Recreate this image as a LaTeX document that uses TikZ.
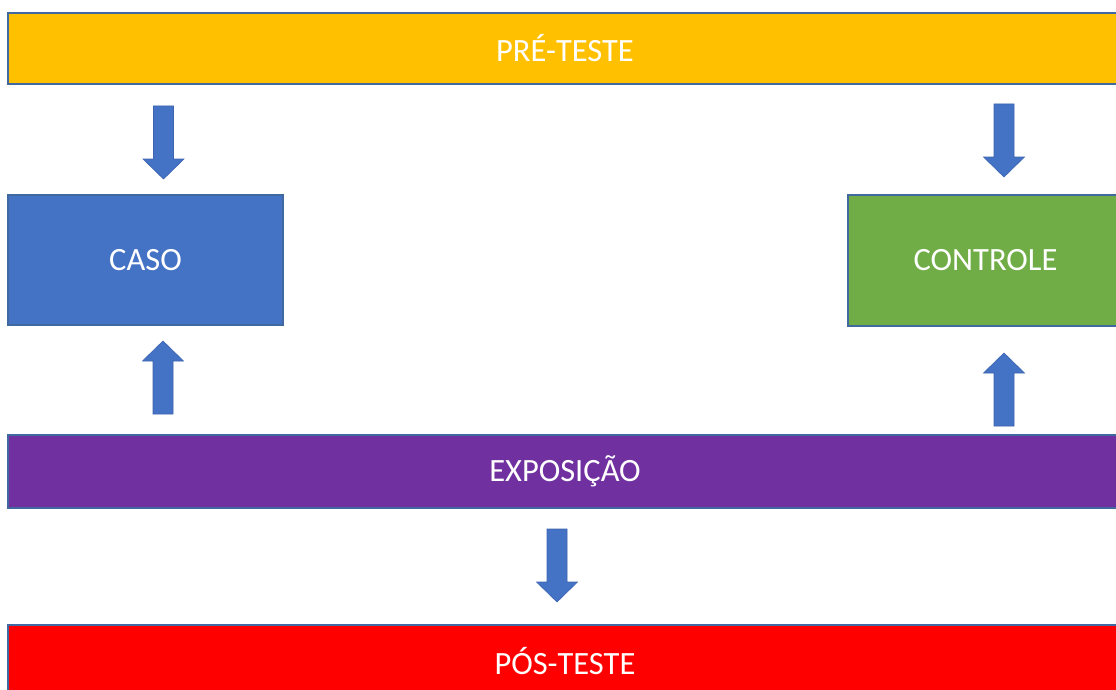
\documentclass[tikz,border=0pt]{standalone}
\usepackage{fontspec}
\setmainfont{Carlito}
\definecolor{cyel}{RGB}{255,192,0}
\definecolor{cblue}{RGB}{68,114,196}
\definecolor{cgreen}{RGB}{112,173,71}
\definecolor{cpurple}{RGB}{112,48,160}
\definecolor{cred}{RGB}{255,0,0}
\definecolor{cline}{RGB}{65,105,160}
\definecolor{carrowline}{RGB}{60,100,175}
\tikzset{
  box/.style={draw=cline, line width=1.2pt, inner sep=0pt, text=white,
    font=\fontsize{32.5}{38}\selectfont},
  blockarrow/.pic={
    \fill[cblue, draw=carrowline, line width=0.6pt]
      (-10,-73) -- (10,-73) -- (10,-20) -- (20.5,-20) -- (0,0)
      -- (-20.5,-20) -- (-10,-20) -- cycle;
  }
}
\begin{document}
\begin{tikzpicture}[x=1pt,y=-1pt]
\useasboundingbox (0,0) rectangle (1116,690);
\clip (0,0) rectangle (1116,690);
\fill[white] (0,0) rectangle (1116,690);
% bars and boxes
\node[box, fill=cyel, minimum width=1114pt, minimum height=71pt] (pre) at (565,48.5) {\raisebox{1pt}{PRÉ-TESTE}};
\node[box, fill=cblue, minimum width=275pt, minimum height=130pt] (caso) at (145.5,260) {\raisebox{1pt}{CASO}};
\node[box, fill=cgreen, minimum width=275pt, minimum height=131pt] (controle) at (985.5,260.5) {\raisebox{1pt}{CONTROLE}};
\node[box, fill=cpurple, minimum width=1114pt, minimum height=73pt] (expo) at (565,471.5) {\raisebox{1pt}{EXPOSIÇÃO}};
\node[box, fill=cred, minimum width=1114pt, minimum height=72pt] (pos) at (565,661) {\raisebox{1pt}{PÓS-TESTE}};
% arrows
\coordinate (a1) at (163.5,179);
\coordinate (a2) at (1004,177);
\coordinate (a3) at (163,341);
\coordinate (a4) at (1004,353);
\coordinate (a5) at (557,602);
\pic at (a1) {blockarrow};
\pic at (a2) {blockarrow};
\pic[rotate=180] at (a3) {blockarrow};
\pic[rotate=180] at (a4) {blockarrow};
\pic at (a5) {blockarrow};
\end{tikzpicture}
\end{document}
